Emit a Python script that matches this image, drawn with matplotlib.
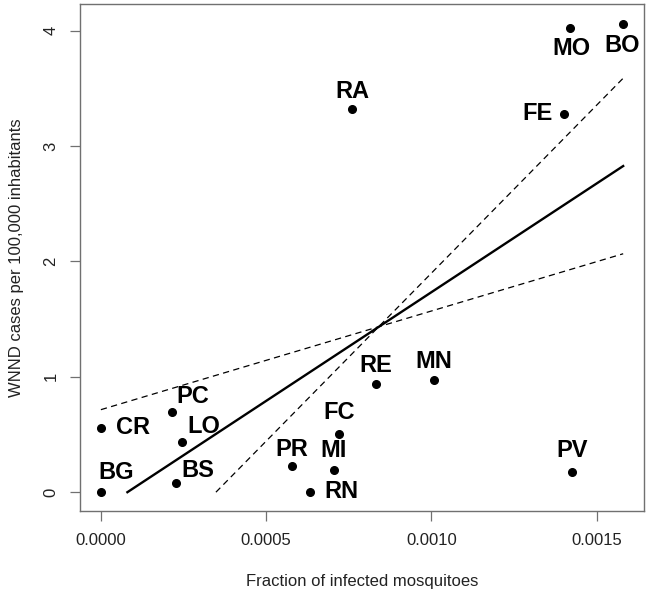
import matplotlib
matplotlib.use('Agg')
from matplotlib import pyplot as plt

# provinces: fraction of infected mosquitoes vs WNND cases per 100,000 inhabitants
names = ['BG', 'CR', 'PC', 'LO', 'BS', 'PR', 'RN', 'MI', 'FC',
         'RE', 'MN', 'PV', 'RA', 'FE', 'MO', 'BO']
frac = [0.0, 0.0, 0.000214, 0.000244, 0.000227, 0.000578, 0.000633, 0.000705,
        0.000720, 0.000832, 0.001007, 0.001426, 0.000760, 0.001400, 0.001420, 0.001580]
cases = [0.0, 0.557, 0.695, 0.435, 0.081, 0.225, 0.0, 0.188,
         0.507, 0.937, 0.971, 0.179, 3.32, 3.28, 4.02, 4.06]

# fitted line and the two dashed bounds (start/end points)
fit_x = [0.0000802, 0.00158]
fit_y = [0.0, 2.826]
steep_x = [0.000348, 0.00158]
steep_y = [0.0, 3.587]
flat_x = [0.0, 0.00158]
flat_y = [0.715, 2.066]

xticks = [0.0, 0.0005, 0.0010, 0.0015]
xticklabels = ['0.0000', '0.0005', '0.0010', '0.0015']
yticks = [0, 1, 2, 3, 4]

# label offsets in pixels from each point
offsets = {
    'BG': (15, 20), 'CR': (32, 0), 'PC': (21, 15), 'LO': (22, 15),
    'BS': (22, 12.5), 'PR': (0, 17), 'RN': (31, 1), 'MI': (0, 20),
    'FC': (0, 21), 'RE': (0, 19), 'MN': (0, 19), 'PV': (0, 21),
    'RA': (0, 17.5), 'FE': (-26, 0), 'MO': (1, -20), 'BO': (-1, -22),
}

plt.rcParams['font.family'] = ['Liberation Sans', 'DejaVu Sans']

fig = plt.figure(figsize=(6.52, 5.94), dpi=100)
ax = fig.add_axes([80 / 652, 1 - 511 / 594, 564 / 652, 507 / 594])

ax.plot(fit_x, fit_y, color='black', linewidth=1.7)
ax.plot(steep_x, steep_y, color='black', linewidth=0.9, dashes=(5, 3.5))
ax.plot(flat_x, flat_y, color='black', linewidth=0.9, dashes=(5, 3.5))
ax.plot(frac, cases, 'o', color='black', markersize=5.5)

for n, x, y in zip(names, frac, cases):
    dx, dy = offsets[n]
    ax.annotate(n, (x, y), xytext=(dx, dy), textcoords='offset pixels',
                ha='center', va='center', fontsize=17, fontweight='bold')

ax.set_xlim(-0.0000632, 0.001643)
ax.set_ylim(-0.163, 4.23)
ax.set_xticks(xticks)
ax.set_xticklabels(xticklabels)
ax.set_yticks(yticks)
ax.set_yticklabels([str(v) for v in yticks], rotation=90, va='center')

for s in ax.spines.values():
    s.set_color('#707070')
    s.set_linewidth(1.0)
ax.tick_params(direction='out', length=7.5, width=0.9, color='#707070',
               labelsize=12, labelcolor='#222222', pad=8)

ax.set_xlabel('Fraction of infected mosquitoes', fontsize=12, color='#222222', labelpad=19)
ax.set_ylabel('WNND cases per 100,000 inhabitants', fontsize=12, color='#222222', labelpad=14)

fig.savefig('out.png', dpi=100)
